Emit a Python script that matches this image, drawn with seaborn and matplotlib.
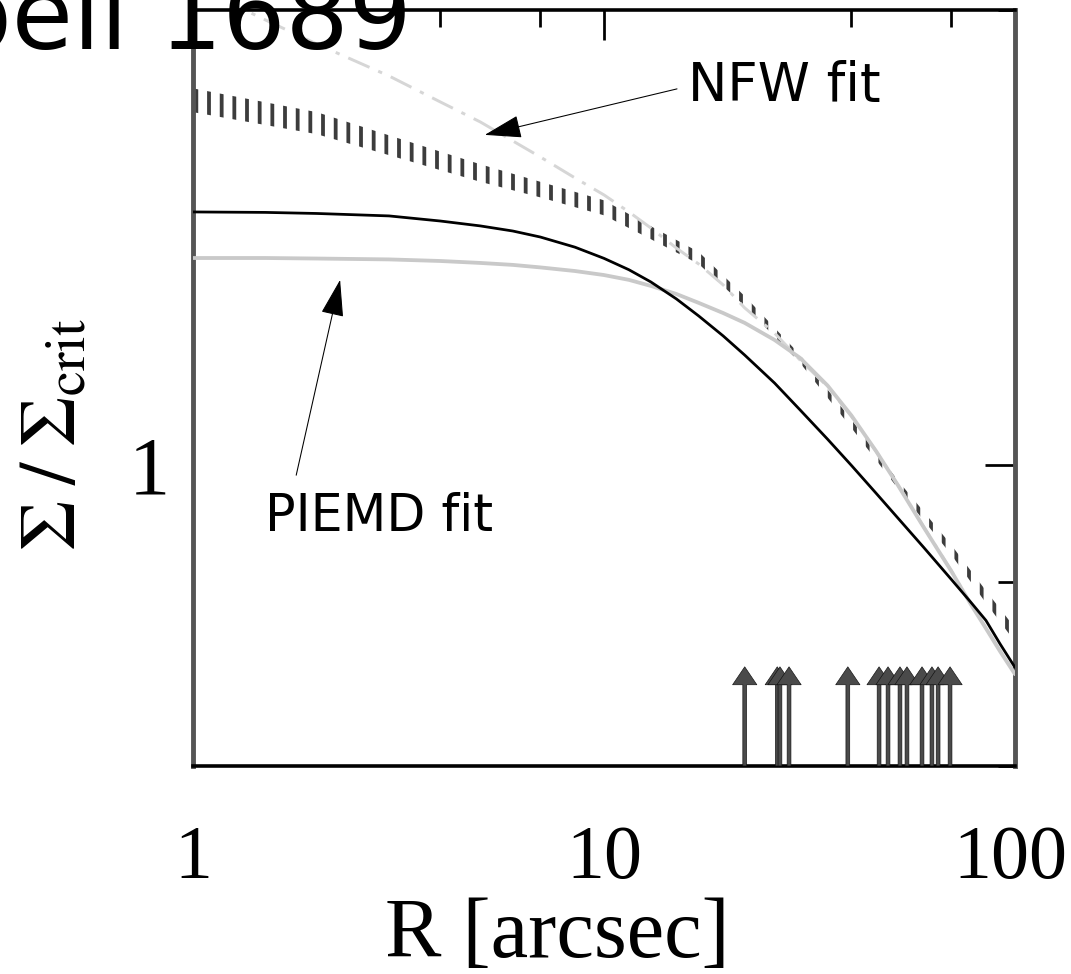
import numpy as np
import pandas as pd
import matplotlib
matplotlib.use("Agg")
import matplotlib.pyplot as plt
import matplotlib.ticker as mticker
import matplotlib.transforms as mtransforms
import seaborn as sns

# radius grid [arcsec] for the fitted profiles
radius = [1, 1.5, 2, 3, 4, 5, 6, 7, 8.5, 10, 11.5, 13, 15, 17, 19.5, 22,
          26, 30, 35, 40, 46, 52, 60, 70, 78, 85, 92, 100]

# convergence profiles
sigma_model = [2.162, 2.159, 2.152, 2.136, 2.103, 2.072, 2.040, 2.003, 1.942, 1.877,
               1.813, 1.747, 1.659, 1.575, 1.482, 1.398, 1.284, 1.183, 1.082, 0.999,
               0.917, 0.850, 0.778, 0.706, 0.659, 0.623, 0.580, 0.540]
sigma_piemd = [1.879, 1.879, 1.876, 1.871, 1.862, 1.851, 1.840, 1.826, 1.806, 1.784,
               1.758, 1.726, 1.684, 1.639, 1.589, 1.542, 1.464, 1.386, 1.274, 1.163,
               1.042, 0.939, 0.827, 0.724, 0.655, 0.608, 0.567, 0.529]
sigma_nfw = [4.316, 3.880, 3.606, 3.271, 3.022, 2.844, 2.684, 2.556, 2.398, 2.277,
             2.162, 2.059, 1.937, 1.845, 1.731, 1.614, 1.495, 1.377, 1.270, 1.160,
             1.042, 0.940, 0.828, 0.725, 0.656, 0.609, 0.568, 0.530]

# hatched band (lensing reconstruction)
band_radius = [1, 2, 3, 5, 7, 10, 13, 17, 22, 30, 40, 52, 70, 85, 100]
band_lo = [2.93, 2.74, 2.57, 2.37, 2.26, 2.14, 1.99, 1.845, 1.624, 1.365, 1.12, 0.93, 0.761, 0.657, 0.584]
band_hi = [3.15, 2.93, 2.73, 2.50, 2.37, 2.24, 2.07, 1.914, 1.673, 1.399, 1.148, 0.953, 0.784, 0.682, 0.609]

# radii of multiple images (arrows at the bottom)
image_radii = [22.0, 26.4, 26.8, 28.2, 39.2, 46.7, 49.1, 52.5, 54.6, 59.4, 62.8, 65.0, 69.5]
arrow_tip = 0.541

x_ticks = [1, 10, 100]
x_tick_labels = ["1", "10", "100"]
x_minor = [4, 7, 40, 70]
y_ticks = [1]
y_tick_labels = ["1"]
y_minor = [0.4, 0.7, 4]


def main():
    sns.set_theme(style="white")
    plt.rcParams["font.family"] = ["Liberation Serif", "DejaVu Serif"]
    plt.rcParams["mathtext.fontset"] = "stix"
    plt.rcParams["lines.scale_dashes"] = False
    plt.rcParams["hatch.linewidth"] = 3.6
    plt.rcParams["hatch.color"] = "#3c3c3c"
    for key in ["text.color", "axes.labelcolor", "xtick.color", "ytick.color"]:
        plt.rcParams[key] = "black"

    dpi = 76
    fig = plt.figure(figsize=(1071 / dpi, 974 / dpi), dpi=dpi)
    fig.patch.set_facecolor("white")
    ax = fig.add_axes([0.1802, 0.2136, 0.7675, 0.7762])
    ax.set_xscale("log")
    ax.set_yscale("log")

    df = pd.DataFrame({"R": radius, "model": sigma_model,
                       "piemd": sigma_piemd, "nfw": sigma_nfw})

    # hatched band drawn as vertical bars
    ax.fill_between(band_radius, band_lo, band_hi, facecolor="none",
                    edgecolor="#3c3c3c", hatch="|", linewidth=0, zorder=2)

    sns.lineplot(data=df, x="R", y="nfw", color="#d6d6d6", lw=2.8, ax=ax, zorder=3)
    ax.lines[-1].set_dashes([22, 9, 4, 9])
    sns.lineplot(data=df, x="R", y="piemd", color="#c9c9c9", lw=3.6, ax=ax, zorder=3)
    sns.lineplot(data=df, x="R", y="model", color="black", lw=2.6, ax=ax, zorder=4)

    for r in image_radii:
        ax.annotate("", xy=(r, arrow_tip), xytext=(r, 0.4),
                    arrowprops=dict(facecolor="#4a4a4a", edgecolor="#111111", lw=0.6,
                                    width=3.6, headwidth=23, headlength=17, shrink=0),
                    zorder=5)

    ax.set_xlim(1, 100)
    ax.set_ylim(0.4, 4)

    ax.set_xticks(x_ticks, labels=x_tick_labels)
    ax.set_xticks(x_minor, minor=True)
    ax.set_yticks(y_ticks, labels=y_tick_labels)
    ax.set_yticks(y_minor, minor=True)
    ax.xaxis.set_minor_formatter(mticker.NullFormatter())
    ax.yaxis.set_minor_formatter(mticker.NullFormatter())
    ax.tick_params(which="both", direction="in", top=True, right=True,
                   color="black", width=2.6)
    ax.tick_params(which="major", length=28)
    ax.tick_params(which="minor", length=16)
    ax.tick_params(axis="x", pad=56, labelsize=72)
    ax.tick_params(axis="y", pad=22, labelsize=78)
    # nudge the last x label so it stays inside the picture
    last = ax.get_xticklabels()[-1]
    last.set_transform(last.get_transform() +
                       mtransforms.ScaledTranslation(-4 / 72, 0, fig.dpi_scale_trans))

    for side in ["left", "right"]:
        ax.spines[side].set_color("#555555")
        ax.spines[side].set_linewidth(4.6)
    for side in ["top", "bottom"]:
        ax.spines[side].set_color("black")
        ax.spines[side].set_linewidth(3.4)

    ax.set_xlabel("R [arcsec]", fontsize=80)
    ax.xaxis.set_label_coords(0.443, -0.1746)
    ax.set_ylabel(r"$\Sigma\;/\;\Sigma_{\mathrm{crit}}$", fontsize=76)
    ax.yaxis.set_label_coords(-0.123, 0.438)

    arrow_kw = dict(arrowstyle="-|>,head_length=1.55,head_width=0.48",
                    mutation_scale=20, color="black", lw=1.0)
    ax.annotate("NFW fit", xy=(5.13, 2.734), xytext=(0.602, 0.899),
                textcoords="axes fraction", ha="left", va="center",
                fontsize=50, family="DejaVu Sans",
                arrowprops=dict(relpos=(0, 0.5), shrinkA=8, shrinkB=0, **arrow_kw))
    ax.annotate("PIEMD fit", xy=(2.28, 1.758), xytext=(0.0876, 0.329),
                textcoords="axes fraction", ha="left", va="center",
                fontsize=48, family="DejaVu Sans",
                arrowprops=dict(relpos=(0.12, 1), shrinkA=14, shrinkB=0, **arrow_kw))

    fig.text(412 / 1071, 1 - 48 / 974, "Abell 1689", ha="right", va="baseline",
             fontsize=94, family="DejaVu Sans", color="black")

    fig.savefig("out.png", dpi=dpi)


if __name__ == "__main__":
    main()
